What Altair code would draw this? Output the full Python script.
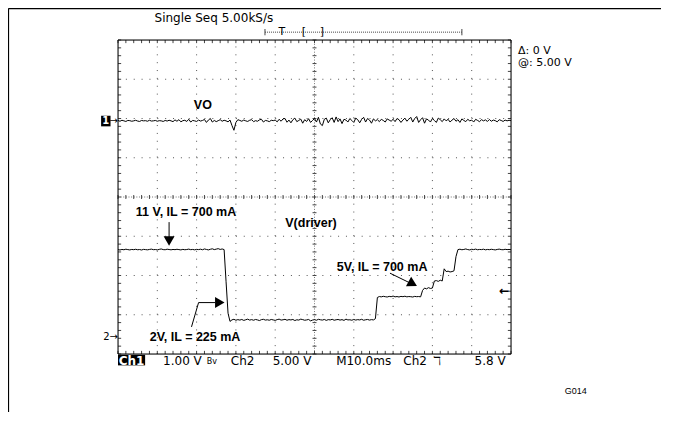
import altair as alt
import pandas as pd
import numpy as np

# ---------------- data ----------------
SAMPLE_MS = 0.5          # sample spacing of the traces, ms
T_SPAN_MS = 100          # 10 div x 10 ms/div
CH1_V_PER_DIV = 1.0
CH2_V_PER_DIV = 5.0
CH1_OFFSET_DIV = 1.94    # position of the "1->" ground marker
CH2_OFFSET_DIV = -3.56   # position of the "2->" ground marker

# Ch1: VO (mV around its ground marker)
VO_MV = [
    10, -10, 15, 0, -15, 10, 5, -10, 0, 15, -5, -15, 10, 0, 5, -10, 15, -5, 0, 10,
    -10, 5, 0, -15, 10, -5, 15, 0, -20, 25, -10, 30, -25, 5, 15, -15, 40, -30, 10, 0,
    -15, 20, -5, 10, 35, -40, 20, 60, -30, 10, -20, 5, 30, -10, 15, 0, -25, 20, -120, -240,
    -40, 30, 10, -10, 20, 0, -15, 15, 30, -20, 5, -10, 25, 40, -30, 10, 0, -20, 15, 5,
    20, -25, 40, -10, 50, 60, -35, 20, -50, 30, 70, -20, 10, 45, -60, 30, -15, 55, -40, 10,
    60, -30, 90, -80, -120, 40, 70, -50, 30, 80, -40, 100, -20, 50, -70, 40, 20, -30, 60, 10,
    -40, 70, 30, -50, 40, 90, -30, 60, 20, -60, 50, 0, 30, -20, 40, 10, -30, 50, 20, -10,
    40, -20, 60, 30, -40, 20, 70, -10, 40, 90, -30, 60, 110, -40, 30, 80, -60, 50, 20, -30,
    60, 10, -40, 70, 30, -20, 50, 0, 40, -30, 20, 60, -10, 30, -40, 50, 10, -20, 40, 0,
    20, -30, 40, 10, -20, 30, 0, 25, -15, 35, -10, 20, 5, -25, 30, 10, -15, 20, 0, 15, 5,
]

# Ch2: V(driver) in volts
DRV_V = [
    11.10, 11.05, 11.12, 11.08, 11.15, 11.10, 11.06, 11.12, 11.09, 11.14,
    11.08, 11.11, 11.05, 11.13, 11.10, 11.07, 11.12, 11.16, 11.09, 11.11,
    11.06, 11.13, 11.18, 11.10, 11.08, 11.15, 11.11, 11.07, 11.12, 11.09,
    11.14, 11.10, 11.06, 11.13, 11.08, 11.11, 11.16, 11.09, 11.12, 11.07,
    11.13, 11.10, 11.15, 11.08, 11.18, 11.12, 11.06, 11.14, 11.20, 11.10,
    11.16, 11.22, 11.12, 11.18, 11.10,
    7.00, 3.00, 1.95,
    2.15, 2.22, 2.10, 2.18, 2.12, 2.20, 2.08, 2.16, 2.24, 2.12,
    2.18, 2.10, 2.20, 2.14, 2.06, 2.18, 2.22, 2.12, 2.16, 2.10,
    2.20, 2.14, 2.08, 2.18, 2.24, 2.12, 2.16, 2.22, 2.10, 2.18,
    2.14, 2.20, 2.06, 2.16, 2.12, 2.24, 2.18, 2.10, 2.14, 2.20,
    2.02, 2.12, 2.18, 2.10, 2.22, 2.16, 2.12, 2.20, 2.08, 2.18,
    2.14, 2.22, 2.10, 2.16, 2.20, 2.12, 2.18, 2.08, 2.24, 2.14,
    2.16, 2.10, 2.20, 2.12, 2.18, 2.14, 2.22, 2.10, 2.16, 2.20,
    2.12, 2.18, 2.14, 2.30,
    5.00, 5.12, 5.08, 5.15, 5.10, 5.06, 5.14, 5.10, 5.18, 5.08,
    5.12, 5.06, 5.14, 5.10, 5.16, 5.08, 5.12, 5.10, 5.06, 5.14,
    5.10, 5.12, 5.08,
    5.90, 6.20, 6.10, 6.25, 6.15, 6.20,
    7.10, 7.15, 7.05, 7.20, 7.10,
    8.65, 8.30, 8.35, 8.25, 8.30, 8.40,
    10.20,
    11.10, 11.15, 11.08, 11.12, 11.18, 11.10, 11.06, 11.14, 11.10, 11.16,
    11.08, 11.12, 11.10, 11.15, 11.07, 11.12, 11.09, 11.14, 11.10, 11.06,
    11.12, 11.16, 11.10, 11.08, 11.14, 11.10, 11.12, 11.09,
]

# annotations: (label, t [ms], position [div])
NOTE_LABELS = ["VO", "11 V, IL = 700 mA", "V(driver)", "2V, IL = 225 mA", "5V, IL = 700 mA"]
NOTE_T = [21.6, 17.3, 49.1, 19.6, 67.2]
NOTE_D = [2.34, -0.39, -0.66, -3.57, -1.78]

ARROW_ID = ["a11", "a11", "a2", "a2", "a2", "a5", "a5"]
ARROW_T = [13.0, 13.0, 18.7, 20.5, 24.7, 69.2, 74.3]
ARROW_D = [-0.64, -1.02, -3.31, -2.69, -2.69, -1.94, -2.19]
HEAD_T = [13.0, 25.9, 75.0]
HEAD_D = [-1.12, -2.69, -2.21]
HEAD_SHAPE = ["triangle-down", "triangle-right", "triangle-right"]
HEAD_ANGLE = [0, 0, 28]

# scope read-outs
BOTTOM_LABELS = ["1.00 V", "Ch2", "5.00 V", "M10.0ms", "Ch2", "\u2138", "5.8 V"]
BOTTOM_T = [16.4, 31.7, 44.3, 62.5, 75.6, 81.2, 94.7]
BOTTOM_D = -4.18
BW_LABEL = "Bv"
BW_T = 23.9
TOP_LABEL = "Single Seq  5.00kS/s"
RIGHT_LABELS = ["\u0394: 0 V", "@: 5.00 V"]
RIGHT_D = [3.72, 3.41]

# ---------------- build tables ----------------
t = np.arange(len(VO_MV)) * SAMPLE_MS
vo = pd.DataFrame({"t": t, "d": CH1_OFFSET_DIV + np.array(VO_MV) / 1000.0 / CH1_V_PER_DIV})
t2 = np.arange(len(DRV_V)) * SAMPLE_MS
drv = pd.DataFrame({"t": t2, "d": CH2_OFFSET_DIV + np.array(DRV_V) / CH2_V_PER_DIV})

X = alt.Scale(domain=[0, T_SPAN_MS], nice=False, zero=False)
Y = alt.Scale(domain=[-4, 4], nice=False, zero=False)


def xq(f):
    return alt.X(f, type="quantitative", scale=X, axis=None)


def yq(f):
    return alt.Y(f, type="quantitative", scale=Y, axis=None)


def text_layer(labels, ts, ds, **kw):
    df = pd.DataFrame({"label": labels, "t": ts, "d": ds})
    props = dict(baseline="middle", align="center", color="black")
    props.update(kw)
    return alt.Chart(df).mark_text(**props).encode(x=xq("t"), y=yq("d"), text="label:N")


# graticule lines (dotted)
grid_rows = []
for tv in range(10, 100, 10):
    if tv != 50:
        grid_rows.append({"x1": tv, "x2": tv, "y1": -4, "y2": 4})
for dv in range(-3, 4):
    if dv != 0:
        grid_rows.append({"x1": 0, "x2": 100, "y1": dv, "y2": dv})
grid = pd.DataFrame(grid_rows)

center = pd.DataFrame([{"x1": 50, "x2": 50, "y1": -4, "y2": 4},
                       {"x1": 0, "x2": 100, "y1": 0, "y2": 0}])

# minor ticks every 0.2 div on center lines and on border
tick_rows = []
tt = np.arange(0, 100.001, 2.0)
dd = np.arange(-4, 4.001, 0.2)
for v in tt:
    tick_rows.append({"x1": v, "x2": v, "y1": -0.05, "y2": 0.05})
    tick_rows.append({"x1": v, "x2": v, "y1": 4, "y2": 3.92})
    tick_rows.append({"x1": v, "x2": v, "y1": -4, "y2": -3.92})
for v in dd:
    tick_rows.append({"x1": 49.5, "x2": 50.5, "y1": v, "y2": v})
    tick_rows.append({"x1": 0, "x2": 0.8, "y1": v, "y2": v})
    tick_rows.append({"x1": 100, "x2": 99.2, "y1": v, "y2": v})
ticks = pd.DataFrame(tick_rows)

border = pd.DataFrame([{"x1": 0, "x2": 100, "y1": -4, "y2": 4}])
frame = pd.DataFrame([{"x1": -27.9, "x2": 160, "y1": 4.80, "y2": 4.80},
                      {"x1": -27.9, "x2": -27.9, "y1": 4.80, "y2": -8}])


def rules(df, **kw):
    return alt.Chart(df).mark_rule(**kw).encode(
        x=xq("x1"), x2="x2", y=yq("y1"), y2="y2")


def rects(df, **kw):
    return alt.Chart(df).mark_rect(**kw).encode(
        x=xq("x1"), x2="x2", y=yq("y1"), y2="y2")


grid_layer = rules(grid, color="#555", strokeWidth=1, strokeDash=[1, 6.86])
center_layer = rules(center, color="#777", strokeWidth=1, strokeDash=[1, 1.62])
tick_layer = rules(ticks, color="#444", strokeWidth=1)
frame_layer = rules(frame, color="black", strokeWidth=1.5)
border_layer = rects(border, fill=None, stroke="black", strokeWidth=1)

vo_layer = alt.Chart(vo).mark_line(color="black", strokeWidth=1).encode(x=xq("t"), y=yq("d"))
drv_layer = alt.Chart(drv).mark_line(color="black", strokeWidth=1).encode(x=xq("t"), y=yq("d"))

note_layer = text_layer(NOTE_LABELS, NOTE_T, NOTE_D, font="Liberation Sans", fontSize=12.5,
                        fontWeight="bold")

arrows = pd.DataFrame({"id": ARROW_ID, "t": ARROW_T, "d": ARROW_D, "o": range(len(ARROW_T))})
arrow_layer = alt.Chart(arrows).mark_line(color="black", strokeWidth=1).encode(
    x=xq("t"), y=yq("d"), detail="id:N", order="o:Q")
heads = pd.DataFrame({"t": HEAD_T, "d": HEAD_D, "shape": HEAD_SHAPE, "angle": HEAD_ANGLE})
head_layer = alt.Chart(heads).mark_point(filled=True, color="black", size=120, opacity=1).encode(
    x=xq("t"), y=yq("d"), shape=alt.Shape("shape:N", scale=None),
    angle=alt.Angle("angle:Q", scale=None))

bottom_layer = text_layer(BOTTOM_LABELS, BOTTOM_T, [BOTTOM_D] * len(BOTTOM_T),
                          font="DejaVu Sans", fontSize=12)
bw_layer = text_layer([BW_LABEL], [BW_T], [BOTTOM_D - 0.02], font="DejaVu Sans", fontSize=8)

ch1_box_layer = rects(pd.DataFrame({"x1": [0.0], "x2": [6.9], "y1": [-4.02], "y2": [-4.29]}),
                      color="black")
ch1_txt = text_layer(["Ch1"], [3.45], [BOTTOM_D], font="DejaVu Sans", fontSize=12,
                     fontWeight="bold", color="white")

top_txt = text_layer([TOP_LABEL], [24.4], [4.56], font="DejaVu Sans", fontSize=12)

# trigger position bar
tbar_layer = rules(pd.DataFrame([{"x1": 37.4, "x2": 87.5, "y1": 4.2, "y2": 4.2}]),
                   color="#444", strokeWidth=1, strokeDash=[1, 1])
tbar_end_layer = rules(pd.DataFrame([{"x1": 37.4, "x2": 37.4, "y1": 4.12, "y2": 4.28},
                                     {"x1": 87.5, "x2": 87.5, "y1": 4.12, "y2": 4.28}]),
                       color="#444", strokeWidth=1)
tbar_txt = text_layer(["T", "[", "]"], [41.7, 47.3, 51.9], [4.2, 4.2, 4.2],
                      font="DejaVu Sans", fontSize=11)

right_layer = text_layer(RIGHT_LABELS, [101.8, 101.8], RIGHT_D, font="DejaVu Sans",
                         fontSize=11, align="left")

# channel ground markers and trigger level
m1_box = rects(pd.DataFrame({"x1": [-4.3], "x2": [-1.9], "y1": [2.07], "y2": [1.80]}),
               color="black")
m1_txt = text_layer(["1"], [-3.1], [1.94], font="DejaVu Sans", fontSize=10, fontWeight="bold",
                    color="white")
m_arrows = text_layer(["\u2192", "2\u2192"], [0.0, 0.0], [1.94, -3.56], font="DejaVu Sans",
                      fontSize=10, align="right")
trig = text_layer(["\u2190"], [98.3], [-2.39], font="DejaVu Sans", fontSize=12, fontWeight="bold")

g014 = text_layer(["G014"], [116.5], [-4.95], font="Liberation Sans", fontSize=9)

chart = alt.layer(
    frame_layer, grid_layer, center_layer, tick_layer, border_layer,
    vo_layer, drv_layer, arrow_layer, head_layer, note_layer,
    bottom_layer, bw_layer, ch1_box_layer, ch1_txt, top_txt, tbar_layer, tbar_end_layer,
    tbar_txt, right_layer, m1_box, m1_txt, m_arrows, trig, g014,
).properties(
    width=393, height=314,
    autosize=alt.AutoSizeParams(type="none"),
    padding={"left": 110, "top": 32, "right": 150, "bottom": 58},
).configure_view(stroke=None).configure(background="white")

chart.save("out.html", embed_options={"renderer": "svg", "actions": False})
